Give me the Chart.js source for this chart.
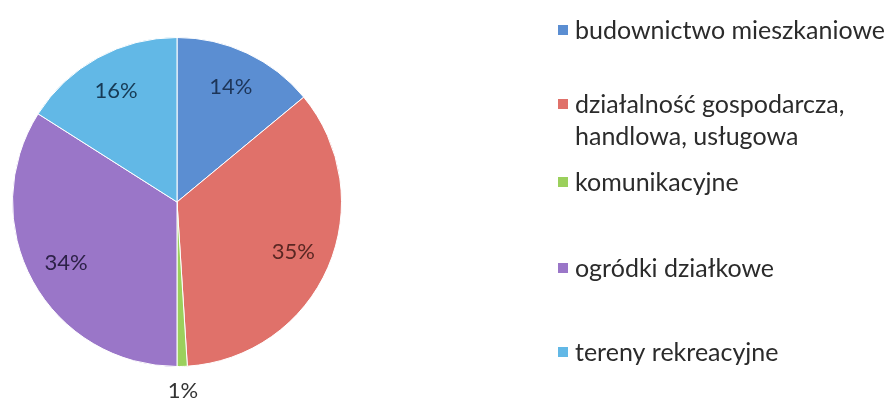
<!doctype html>
<html>
<head>
<meta charset="utf-8">
<title>Struktura użytkowania terenu</title>
<script src="https://cdn.jsdelivr.net/npm/chart.js@4"></script>
<style>
body { margin: 0; background: #fff; }
#container { width: 888px; height: 403px; }
</style>
</head>
<body>
<div id="container"><canvas id="canvas"></canvas></div>
<script>
const categories = ['budownictwo mieszkaniowe', 'działalność gospodarcza, handlowa, usługowa', 'komunikacyjne', 'ogródki działkowe', 'tereny rekreacyjne'];
const legendLines = [['budownictwo mieszkaniowe'], ['działalność gospodarcza,', 'handlowa, usługowa'], ['komunikacyjne'], ['ogródki działkowe'], ['tereny rekreacyjne']];
const shares = [14, 35, 1, 34, 16];
const colors = ['#5b8ed2', '#e0716a', '#9bd05c', '#9a76c8', '#62b8e6'];
const labelColors = ['#1d3558', '#5a2723', '#333333', '#2d2148', '#173a55'];

// hand-placed legend, like the original (vertical centre of each line)
const legendRows = [[30], [104, 136], [182], [268], [352]];

const sliceLabels = {
	id: 'sliceLabels',
	afterDatasetsDraw(chart) {
		const ctx = chart.ctx;
		const arcs = chart.getDatasetMeta(0).data;
		ctx.save();
		ctx.font = '22px Lato';
		ctx.textAlign = 'center';
		ctx.textBaseline = 'middle';
		arcs.forEach((arc, i) => {
			const mid = (arc.startAngle + arc.endAngle) / 2;
			const r = shares[i] < 3 ? arc.outerRadius + 24 : arc.outerRadius * 0.77;
			ctx.fillStyle = labelColors[i];
			ctx.fillText(shares[i] + '%', arc.x + Math.cos(mid) * r, arc.y + Math.sin(mid) * r);
		});
		ctx.restore();
	}
};

const sideLegend = {
	id: 'sideLegend',
	afterDraw(chart) {
		const ctx = chart.ctx;
		ctx.save();
		ctx.font = '25px Lato';
		ctx.textBaseline = 'middle';
		legendLines.forEach((lines, i) => {
			const ys = legendRows[i];
			ctx.fillStyle = colors[i];
			ctx.fillRect(558, ys[0] - 5, 10, 10);
			ctx.fillStyle = '#2b2b2b';
			lines.forEach((t, j) => ctx.fillText(t, 575, ys[j] + 1));
		});
		ctx.restore();
	}
};

new Chart(document.getElementById('canvas'), {
	type: 'pie',
	data: {
		labels: categories,
		datasets: [{
			data: shares,
			backgroundColor: colors,
			borderColor: '#ffffff',
			borderWidth: 1
		}]
	},
	options: {
		responsive: true,
		maintainAspectRatio: false,
		animation: false,
		layout: { padding: { left: 12, right: 546, top: 37, bottom: 36 } },
		plugins: {
			legend: { display: false },
			tooltip: { enabled: false }
		}
	},
	plugins: [sliceLabels, sideLegend]
});
</script>
</body>
</html>
